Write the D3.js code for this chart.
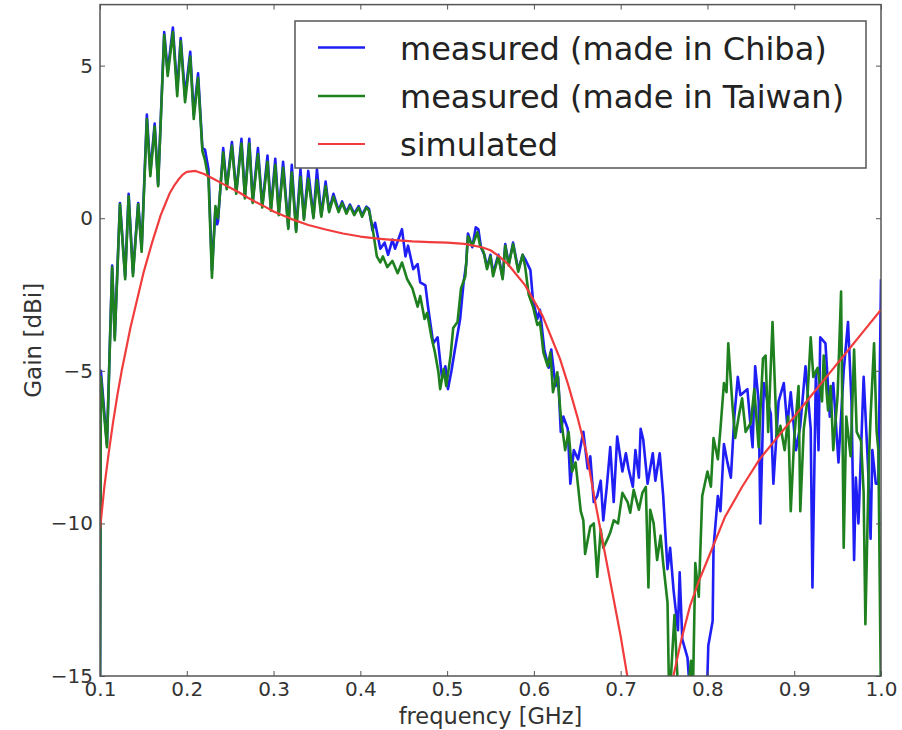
<!DOCTYPE html>
<html>
<head>
<meta charset="utf-8">
<script src="https://cdn.jsdelivr.net/npm/d3@7"></script>
<style>
  body { margin: 0; background: #fff; }
  svg { display: block; font-family: "DejaVu Sans", sans-serif; }
</style>
</head>
<body>
<svg id="chart" width="902" height="730"></svg>
<script>
// Axis ticks
const xTicks = [0.1, 0.2, 0.3, 0.4, 0.5, 0.6, 0.7, 0.8, 0.9, 1.0];
const yTicks = [-15, -10, -5, 0, 5];

// Gain [dBi] versus frequency [GHz]: [frequency, gain]
const chiba = [
  [0.100,-16],[0.101,-5.0],[0.108,-7.4],[0.114,-1.55],[0.117,-3.9],[0.123,0.5],[0.129,-1.9],[0.133,0.8],
  [0.138,-1.8],[0.144,0.5],[0.148,-1.0],[0.154,3.4],[0.158,1.5],[0.163,3.1],[0.167,1.1],[0.174,6.1],
  [0.178,4.8],[0.184,6.25],[0.189,4.2],[0.193,5.9],[0.198,4.0],[0.204,5.45],[0.208,3.4],[0.213,4.75],
  [0.218,2.3],[0.221,2.25],[0.225,1.6],[0.229,-1.7],[0.233,0.3],[0.235,-0.2],[0.236,-0.1],[0.242,2.3],
  [0.246,1.0],[0.252,2.5],[0.257,0.85],[0.263,2.6],[0.267,0.7],[0.272,2.6],[0.276,0.55],[0.282,2.3],
  [0.287,0.4],[0.293,2.05],[0.297,0.3],[0.302,1.95],[0.306,0.15],[0.311,1.85],[0.317,-0.3],[0.321,1.75],
  [0.326,-0.4],[0.331,1.6],[0.335,0.0],[0.340,1.55],[0.346,0.05],[0.350,1.6],[0.355,0.1],[0.360,1.2],
  [0.364,0.25],[0.369,0.8],[0.375,0.25],[0.379,0.55],[0.384,0.2],[0.388,0.45],[0.393,0.15],[0.398,0.4],
  [0.402,0.1],[0.407,0.38],[0.410,0.3],[0.414,-0.4],[0.417,-0.15],[0.423,-1.0],[0.428,-0.8],[0.432,-1.2],
  [0.437,-0.7],[0.440,-1.0],[0.448,-0.36],[0.452,-1.25],[0.455,-0.9],[0.461,-1.67],[0.466,-1.5],[0.469,-2.1],
  [0.475,-2.2],[0.478,-2.9],[0.484,-4.1],[0.489,-3.9],[0.494,-5.2],[0.498,-4.85],[0.501,-5.6],[0.505,-5.0],
  [0.509,-4.3],[0.515,-3.3],[0.519,-2.1],[0.522,-1.5],[0.524,-0.5],[0.529,-0.95],[0.533,-0.3],[0.536,-0.36],
  [0.539,-0.95],[0.543,-1.2],[0.546,-1.6],[0.550,-1.2],[0.553,-1.8],[0.559,-1.2],[0.564,-1.95],[0.567,-0.85],
  [0.571,-1.5],[0.576,-0.8],[0.582,-1.7],[0.587,-1.2],[0.591,-1.4],[0.596,-1.7],[0.599,-2.7],[0.604,-3.3],
  [0.607,-3.0],[0.612,-4.3],[0.617,-4.9],[0.620,-4.3],[0.625,-5.5],[0.628,-5.2],[0.631,-7.0],[0.634,-6.5],
  [0.639,-6.9],[0.642,-8.7],[0.646,-7.6],[0.651,-7.9],[0.657,-7.0],[0.662,-8.2],[0.665,-7.8],[0.669,-9.3],
  [0.673,-9.1],[0.677,-8.6],[0.680,-9.9],[0.684,-8.8],[0.688,-7.5],[0.692,-9.3],[0.696,-7.15],[0.702,-8.3],
  [0.706,-7.7],[0.709,-8.2],[0.714,-8.8],[0.717,-7.6],[0.721,-8.5],[0.723,-6.9],[0.726,-7.25],[0.731,-8.7],
  [0.737,-7.7],[0.740,-8.6],[0.745,-7.7],[0.749,-9.1],[0.754,-11.5],[0.757,-10.8],[0.761,-12.2],[0.766,-13.5],
  [0.768,-11.6],[0.771,-13.8],[0.777,-14.4],[0.781,-16],[0.792,-16],[0.799,-16],[0.801,-14.0],[0.806,-13.2],
  [0.807,-10.8],[0.812,-9.1],[0.815,-9.6],[0.819,-7.4],[0.823,-8.0],[0.827,-8.5],[0.831,-6.5],[0.835,-5.2],
  [0.838,-5.8],[0.842,-5.7],[0.846,-5.6],[0.850,-6.9],[0.852,-7.5],[0.855,-4.85],[0.859,-6.0],[0.861,-10.0],
  [0.865,-5.4],[0.869,-6.0],[0.873,-6.4],[0.876,-8.7],[0.882,-6.0],[0.888,-5.4],[0.892,-6.8],[0.896,-5.7],
  [0.902,-7.6],[0.907,-6.8],[0.913,-4.85],[0.919,-6.9],[0.921,-12.1],[0.925,-5.0],[0.928,-7.6],[0.930,-3.9],
  [0.936,-4.1],[0.941,-6.5],[0.945,-5.4],[0.951,-8.0],[0.957,-5.0],[0.962,-3.4],[0.966,-6.0],[0.969,-11.2],
  [0.971,-8.5],[0.974,-10.0],[0.977,-7.6],[0.980,-5.2],[0.985,-8.1],[0.988,-10.5],[0.990,-7.6],[0.994,-8.7],
  [0.997,-8.7],[1.000,-2.0]
];

const taiwan = [
  [0.100,-16],[0.101,-5.2],[0.108,-7.5],[0.114,-1.6],[0.117,-4.0],[0.123,0.46],[0.129,-2.0],[0.133,0.72],
  [0.138,-1.9],[0.144,0.46],[0.148,-1.1],[0.154,3.25],[0.158,1.38],[0.163,3.0],[0.167,1.05],[0.174,6.0],
  [0.178,4.66],[0.184,6.1],[0.189,4.0],[0.193,5.8],[0.198,3.8],[0.204,5.3],[0.208,3.25],[0.213,4.6],
  [0.218,2.2],[0.221,1.9],[0.225,1.3],[0.229,-1.95],[0.233,0.4],[0.236,0.0],[0.242,2.15],[0.246,0.95],
  [0.252,2.37],[0.257,0.8],[0.263,2.45],[0.267,0.65],[0.272,2.45],[0.276,0.5],[0.282,2.1],[0.287,0.35],
  [0.293,1.85],[0.297,0.25],[0.302,1.75],[0.306,0.1],[0.311,1.65],[0.317,-0.35],[0.321,1.5],[0.326,-0.45],
  [0.331,1.35],[0.335,-0.05],[0.340,1.3],[0.346,0.0],[0.350,1.25],[0.355,0.05],[0.360,1.05],[0.364,0.2],
  [0.369,0.7],[0.375,0.2],[0.379,0.5],[0.384,0.15],[0.388,0.4],[0.393,0.1],[0.398,0.35],[0.402,0.05],
  [0.407,0.35],[0.410,0.25],[0.414,-0.3],[0.419,-1.25],[0.423,-1.45],[0.426,-1.25],[0.431,-1.6],[0.437,-1.4],
  [0.443,-1.8],[0.448,-1.45],[0.454,-2.0],[0.460,-2.3],[0.466,-2.9],[0.469,-2.55],[0.474,-3.3],[0.477,-3.1],
  [0.482,-3.9],[0.486,-4.4],[0.490,-5.05],[0.492,-5.6],[0.496,-4.95],[0.499,-5.5],[0.504,-4.5],[0.507,-3.6],
  [0.512,-3.4],[0.516,-2.3],[0.521,-1.9],[0.524,-0.6],[0.529,-0.9],[0.535,-0.46],[0.538,-0.9],[0.542,-1.1],
  [0.546,-1.67],[0.550,-1.25],[0.553,-1.9],[0.559,-1.25],[0.564,-2.0],[0.567,-0.9],[0.571,-1.55],[0.576,-0.85],
  [0.582,-1.75],[0.587,-1.2],[0.590,-1.6],[0.594,-2.5],[0.599,-2.9],[0.604,-3.5],[0.607,-3.4],[0.611,-4.4],
  [0.616,-4.85],[0.619,-4.4],[0.622,-5.7],[0.627,-5.05],[0.631,-6.5],[0.636,-7.6],[0.640,-7.0],[0.644,-8.3],
  [0.648,-8.0],[0.654,-9.6],[0.657,-9.9],[0.659,-11.0],[0.665,-10.1],[0.669,-10.0],[0.673,-11.75],[0.677,-10.2],
  [0.680,-10.8],[0.685,-10.5],[0.688,-10.3],[0.692,-9.9],[0.697,-10.0],[0.702,-9.0],[0.708,-9.3],[0.711,-9.65],
  [0.715,-8.9],[0.721,-9.55],[0.725,-9.0],[0.729,-8.8],[0.732,-12.1],[0.734,-9.55],[0.738,-10.0],[0.742,-11.2],
  [0.746,-10.4],[0.749,-11.3],[0.754,-12.6],[0.756,-16],[0.762,-13.0],[0.767,-16],[0.776,-16],[0.781,-14.5],
  [0.783,-16],[0.786,-11.3],[0.790,-12.4],[0.794,-9.1],[0.800,-8.3],[0.804,-8.8],[0.807,-7.2],[0.812,-7.9],
  [0.815,-6.9],[0.819,-5.4],[0.822,-5.7],[0.824,-4.1],[0.829,-6.2],[0.832,-7.2],[0.836,-6.5],[0.840,-5.9],
  [0.844,-7.0],[0.850,-6.7],[0.854,-5.6],[0.859,-7.5],[0.864,-4.6],[0.867,-4.5],[0.870,-7.0],[0.875,-3.4],
  [0.880,-7.2],[0.884,-6.8],[0.889,-7.6],[0.893,-6.5],[0.896,-9.6],[0.900,-7.2],[0.905,-5.5],[0.907,-9.6],
  [0.911,-6.9],[0.915,-6.0],[0.919,-3.9],[0.922,-5.2],[0.927,-4.9],[0.932,-6.0],[0.934,-4.5],[0.939,-6.3],
  [0.942,-5.5],[0.945,-7.6],[0.950,-5.8],[0.954,-2.4],[0.957,-10.8],[0.960,-6.5],[0.965,-7.8],[0.969,-4.3],
  [0.972,-7.0],[0.977,-7.3],[0.980,-9.0],[0.982,-13.3],[0.986,-8.0],[0.988,-6.5],[0.992,-4.1],[0.995,-7.0],
  [0.997,-7.6],[1.000,-16]
];

const simulated = [
  [0.100,-10.2],[0.105,-8.8],[0.110,-7.7],[0.115,-6.7],[0.120,-5.8],[0.125,-5.0],[0.130,-4.3],[0.135,-3.6],
  [0.140,-3.0],[0.145,-2.4],[0.150,-1.8],[0.155,-1.3],[0.160,-0.8],[0.165,-0.35],[0.170,0.1],[0.175,0.45],
  [0.180,0.8],[0.185,1.05],[0.190,1.25],[0.195,1.42],[0.200,1.52],[0.210,1.55],[0.220,1.45],[0.230,1.3],
  [0.240,1.15],[0.250,1.0],[0.260,0.85],[0.270,0.68],[0.280,0.52],[0.290,0.38],[0.300,0.22],[0.320,-0.02],
  [0.340,-0.22],[0.360,-0.37],[0.380,-0.5],[0.400,-0.6],[0.420,-0.67],[0.440,-0.72],[0.460,-0.76],[0.480,-0.78],
  [0.500,-0.8],[0.520,-0.84],[0.540,-0.95],[0.550,-1.05],[0.560,-1.25],[0.570,-1.5],[0.580,-1.85],[0.590,-2.2],
  [0.600,-2.7],[0.610,-3.2],[0.620,-3.9],[0.630,-4.6],[0.640,-5.5],[0.650,-6.5],[0.660,-7.6],[0.670,-9.2],
  [0.680,-10.7],[0.690,-12.2],[0.700,-13.7],[0.710,-15.4],[0.720,-17.0],[0.730,-18.5],[0.740,-19.0],[0.750,-17.5],
  [0.760,-15.1],[0.770,-13.8],[0.780,-12.7],[0.790,-11.9],[0.800,-11.2],[0.820,-9.8],[0.840,-8.8],[0.860,-7.9],
  [0.880,-7.2],[0.900,-6.5],[0.920,-5.8],[0.940,-5.1],[0.960,-4.4],[0.980,-3.7],[1.000,-3.0]
];

const seriesNames = ["measured (made in Chiba)", "measured (made in Taiwan)", "simulated"];
const seriesColors = ["#1e1ef5", "#1e801e", "#f03c3c"];
const seriesWidths = [2.6, 2.6, 2.2];
const seriesData = [chiba, taiwan, simulated];

const plot = { left: 100, right: 881, top: 4.6, bottom: 676 };
const svg = d3.select("#chart");

const x = d3.scaleLinear().domain([0.1, 1.0]).range([plot.left, plot.right]);
const y = d3.scaleLinear().domain([-15, 7]).range([plot.bottom, plot.top]);

svg.append("defs").append("clipPath").attr("id", "plot-clip")
  .append("rect")
  .attr("x", plot.left).attr("y", plot.top)
  .attr("width", plot.right - plot.left).attr("height", plot.bottom - plot.top);

// Curves
const line = d3.line().x(d => x(d[0])).y(d => y(d[1]));
const curves = svg.append("g").attr("clip-path", "url(#plot-clip)");
seriesData.forEach((data, i) => {
  curves.append("path")
    .datum(data)
    .attr("d", line)
    .attr("fill", "none")
    .attr("stroke", seriesColors[i])
    .attr("stroke-width", seriesWidths[i])
    .attr("stroke-linejoin", "round");
});

// Axes with inward ticks on all four sides
const tickStyle = g => {
  g.select(".domain").remove();
  g.selectAll(".tick line").attr("stroke", "#555").attr("stroke-width", 1);
  g.selectAll(".tick text").attr("fill", "#333").style("font-size", "20px")
    .style("font-family", "'DejaVu Sans', sans-serif");
};

svg.append("g").attr("transform", `translate(0,${plot.bottom})`)
  .call(d3.axisBottom(x).tickValues(xTicks).tickFormat(d3.format(".1f"))
    .tickSizeInner(-5).tickSizeOuter(0).tickPadding(6))
  .call(tickStyle);

svg.append("g").attr("transform", `translate(0,${plot.top})`)
  .call(d3.axisTop(x).tickValues(xTicks).tickFormat("")
    .tickSizeInner(-5).tickSizeOuter(0))
  .call(tickStyle);

svg.append("g").attr("transform", `translate(${plot.left},0)`)
  .call(d3.axisLeft(y).tickValues(yTicks).tickFormat(d3.format("d"))
    .tickSizeInner(-5).tickSizeOuter(0).tickPadding(7))
  .call(tickStyle);

svg.append("g").attr("transform", `translate(${plot.right},0)`)
  .call(d3.axisRight(y).tickValues(yTicks).tickFormat("")
    .tickSizeInner(-5).tickSizeOuter(0))
  .call(tickStyle);

// Plot frame
svg.append("rect")
  .attr("x", plot.left).attr("y", plot.top)
  .attr("width", plot.right - plot.left).attr("height", plot.bottom - plot.top)
  .attr("fill", "none").attr("stroke", "#555").attr("stroke-width", 1.5);

// Axis titles
svg.append("text")
  .attr("x", (plot.left + plot.right) / 2).attr("y", 723.5)
  .attr("text-anchor", "middle").attr("fill", "#333")
  .style("font-size", "22.5px")
  .text("frequency [GHz]");

svg.append("text")
  .attr("transform", `translate(41,${(plot.top + plot.bottom) / 2}) rotate(-90)`)
  .attr("text-anchor", "middle").attr("fill", "#333")
  .style("font-size", "23px")
  .text("Gain [dBi]");

// Legend
const legend = svg.append("g");
legend.append("rect")
  .attr("x", 295).attr("y", 21).attr("width", 571).attr("height", 147)
  .attr("fill", "#fff").attr("stroke", "#555").attr("stroke-width", 1.5);
const rowY = [47.5, 96, 144];
seriesNames.forEach((name, i) => {
  legend.append("line")
    .attr("x1", 318).attr("x2", 365).attr("y1", rowY[i]).attr("y2", rowY[i])
    .attr("stroke", seriesColors[i]).attr("stroke-width", seriesWidths[i]);
  legend.append("text")
    .attr("x", 400).attr("y", rowY[i] + 12)
    .attr("fill", "#222").style("font-size", "32px")
    .text(name);
});
</script>
</body>
</html>
